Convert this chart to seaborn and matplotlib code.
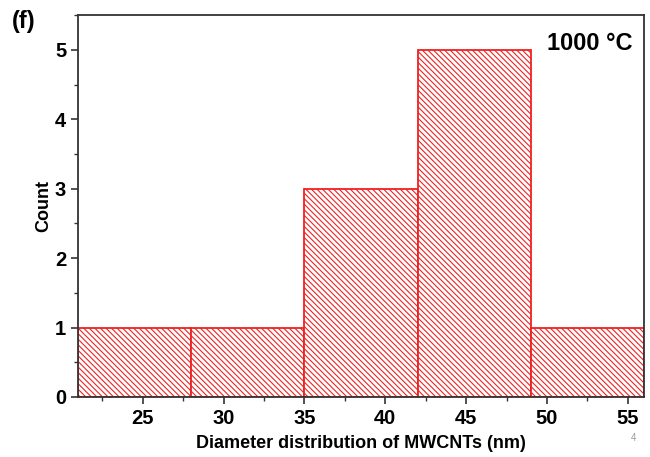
import matplotlib
matplotlib.use("Agg")
import matplotlib.pyplot as plt
import seaborn as sns
from matplotlib.ticker import MultipleLocator

bin_edges = [21, 28, 35, 42, 49, 56]
bin_centers = [24.5, 31.5, 38.5, 45.5, 52.5]
counts = [1, 1, 3, 5, 1]

sns.set_style("ticks")
plt.rcParams['font.family'] = ['Liberation Sans', 'DejaVu Sans']
plt.rcParams['font.weight'] = 'bold'
plt.rcParams['text.color'] = 'black'
plt.rcParams['axes.labelcolor'] = 'black'
plt.rcParams['xtick.color'] = 'black'
plt.rcParams['ytick.color'] = 'black'
plt.rcParams['hatch.linewidth'] = 0.8
plt.rcParams['hatch.color'] = '#f03535'

fig = plt.figure(figsize=(6.5, 4.57), dpi=100)
ax = fig.add_axes([0.12, 0.1313, 0.8708, 0.8357])

sns.histplot(x=bin_centers, weights=counts, bins=bin_edges, ax=ax,
             facecolor='white', edgecolor='#ee2222', linewidth=1.3,
             hatch='\\\\\\\\\\\\', alpha=1)

ax.set_xlim(21, 56)
ax.set_ylim(0, 5.5)
ax.xaxis.set_major_locator(MultipleLocator(5))
ax.xaxis.set_minor_locator(MultipleLocator(2.5))
ax.yaxis.set_major_locator(MultipleLocator(1))
ax.yaxis.set_minor_locator(MultipleLocator(0.5))
ax.tick_params(which='major', direction='out', length=5, width=1.2, labelsize=14.5, color='#333333')
ax.tick_params(which='minor', direction='out', length=3, width=1.0, color='#333333')
for s in ax.spines.values():
    s.set_visible(True)
    s.set_linewidth(1.3)
    s.set_color('#333333')

ax.set_xlabel('Diameter distribution of MWCNTs (nm)', fontsize=13, fontweight='bold', labelpad=5)
ax.set_ylabel('Count', fontsize=13, fontweight='bold', labelpad=2)

ax.text(0.98, 0.955, '1000 °C', transform=ax.transAxes, ha='right', va='top',
        fontsize=17, fontweight='bold')
fig.text(0.018, 0.952, '(f)', fontsize=17, fontweight='bold', ha='left', va='center')
fig.text(0.975, 0.035, '4', fontsize=7, color='#999999', fontweight='normal', ha='center')

fig.savefig('out.png', dpi=100)
